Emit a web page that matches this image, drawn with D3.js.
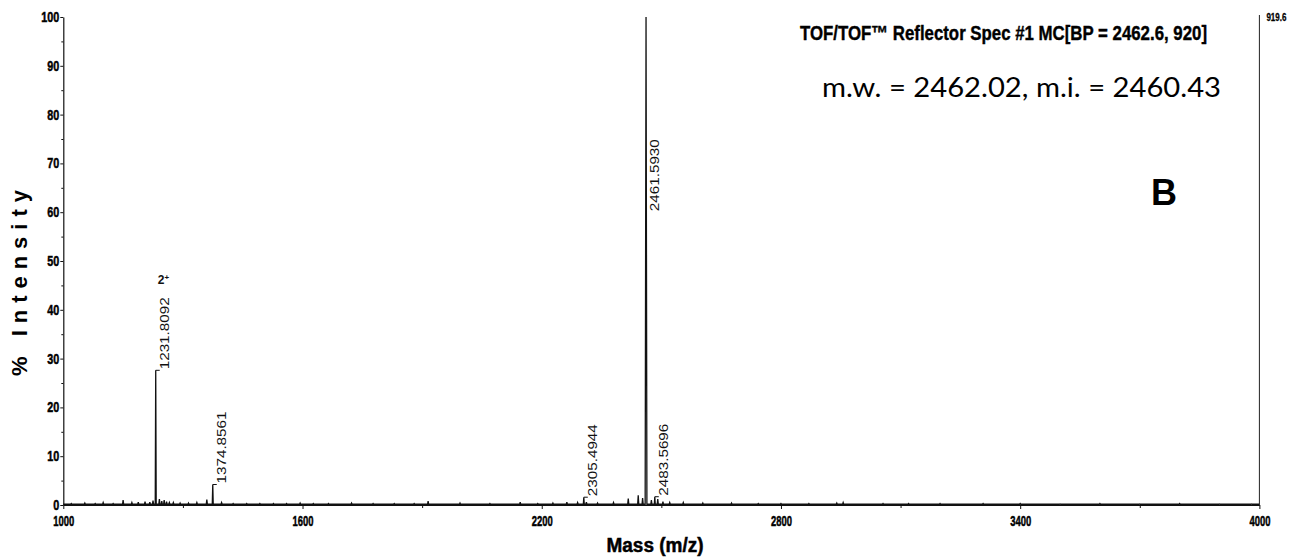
<!DOCTYPE html>
<html>
<head>
<meta charset="utf-8">
<script src="https://cdn.jsdelivr.net/npm/d3@7"></script>
<style>
  body { margin: 0; background: #fff; }
  svg { display: block; }
</style>
</head>
<body>
<svg id="chart" width="1306" height="558"></svg>
<script>
// Axis ticks
const xTicks = [1000, 1600, 2200, 2800, 3400, 4000];
const xMinorTicks = [1300, 1900, 2500, 3100, 3700];
const yTicks = [0, 10, 20, 30, 40, 50, 60, 70, 80, 90, 100];
const yMinorTicks = [5, 15, 25, 35, 45, 55, 65, 75, 85, 95];

// Annotated peaks (m/z, % intensity)
const peakMz = [1231.8092, 1374.8561, 2305.4944, 2461.5930, 2483.5696];
const peakIntensity = [27.6, 4.2, 1.6, 100, 1.7];
const peakLabels = ["1231.8092", "1374.8561", "2305.4944", "2461.5930", "2483.5696"];

// Small unlabelled signals along the baseline (m/z, % intensity)
const noiseMz = [1020, 1054, 1080, 1100, 1125, 1150, 1172, 1188, 1205, 1217, 1225, 1241, 1247, 1253, 1259,
  1266, 1276, 1293, 1314, 1335, 1360, 1397, 1426, 1460, 1493, 1527, 1560, 1594, 1627, 1665, 1723, 1777,
  1830, 1880, 1915, 1995, 2070, 2146, 2190, 2228, 2263, 2290, 2312, 2340, 2380, 2417, 2442, 2453, 2475,
  2491, 2504, 2521, 2555, 2604, 2676, 2743, 2800, 2870, 2940, 2956, 3056, 3120, 3199, 3307, 3400, 3500,
  3600, 3700, 3800, 3900, 3980];
const noiseIntensity = [0.3, 0.4, 0.3, 0.5, 0.3, 1.0, 0.5, 0.6, 0.7, 0.6, 0.9, 1.2, 0.8, 1.0, 0.7,
  0.5, 0.5, 0.4, 0.4, 0.5, 1.1, 0.5, 0.3, 0.3, 0.3, 0.3, 0.3, 0.4, 0.3, 0.3, 0.4, 0.3,
  0.3, 0.3, 0.8, 0.4, 0.3, 0.6, 0.3, 0.4, 0.6, 0.5, 0.6, 0.4, 0.5, 1.3, 2.0, 1.4, 1.0,
  1.2, 0.7, 0.5, 0.5, 0.4, 0.4, 0.3, 0.3, 0.3, 0.4, 0.5, 0.3, 0.3, 0.3, 0.3, 0.3, 0.2,
  0.3, 0.2, 0.3, 0.2, 0.2];

const baseLevel = 0.15;
const basePeakCounts = "919.6";

const svg = d3.select("#chart");
const x = d3.scaleLinear().domain([1000, 4000]).range([63.3, 1259.4]);
const y = d3.scaleLinear().domain([0, 100]).range([505, 17]);

const narrow = '"Liberation Sans Narrow", "Arial Narrow", "Liberation Sans", Arial, sans-serif';

// heavy, compressed lettering used by the acquisition software
function heavy(sel, width) {
  sel.attr("font-family", narrow)
    .attr("font-weight", "bold")
    .attr("fill", "#000")
    .attr("stroke", "#000")
    .attr("stroke-width", 0.5);
  if (width) sel.attr("textLength", width).attr("lengthAdjust", "spacingAndGlyphs");
  return sel;
}

// ---- spectrum trace: every signal drawn as a stick on the baseline
const sticks = [];
peakMz.forEach((m, i) => sticks.push({ m, h: peakIntensity[i], w: peakIntensity[i] > 50 ? 2.2 : 1.2 }));
noiseMz.forEach((m, i) => sticks.push({ m, h: noiseIntensity[i], w: 1.4 }));
sticks.sort((a, b) => a.m - b.m);

const trace = [[1000, baseLevel]];
sticks.forEach(s => {
  trace.push([s.m - s.w, baseLevel], [s.m, s.h], [s.m + s.w, baseLevel]);
});
trace.push([4000, baseLevel]);

const line = d3.line().x(d => x(d[0])).y(d => y(d[1]));

svg.append("path")
  .attr("d", line(trace))
  .attr("fill", "none")
  .attr("stroke", "#111")
  .attr("stroke-width", 1.3)
  .attr("stroke-linejoin", "miter");

// ---- axes
const xAxis = svg.append("g")
  .attr("transform", `translate(0,${y(0)})`)
  .call(d3.axisBottom(x).tickValues(xTicks).tickSize(4).tickSizeOuter(0).tickFormat(d3.format("d")));
svg.append("g")
  .attr("transform", `translate(0,${y(0)})`)
  .call(d3.axisBottom(x).tickValues(xMinorTicks).tickSize(3).tickSizeOuter(0).tickFormat(""))
  .select(".domain").remove();

xAxis.selectAll("text")
  .attr("y", 10)
  .attr("font-size", 15)
  .call(heavy, 21);

const yAxis = svg.append("g")
  .attr("transform", `translate(${x(1000)},0)`)
  .call(d3.axisLeft(y).tickValues(yTicks).tickSize(3).tickSizeOuter(0).tickFormat(d3.format("d")));
svg.append("g")
  .attr("transform", `translate(${x(1000)},0)`)
  .call(d3.axisLeft(y).tickValues(yMinorTicks).tickSize(2).tickSizeOuter(0).tickFormat(""))
  .select(".domain").remove();

yAxis.selectAll("text")
  .attr("x", -4)
  .attr("dy", "0.3em")
  .attr("font-size", 15)
  .call(heavy)
  .each(function (d) {
    d3.select(this)
      .attr("textLength", String(d).length * 6)
      .attr("lengthAdjust", "spacingAndGlyphs");
  });

svg.selectAll(".domain").attr("stroke", "#111").attr("stroke-width", 1.2);
svg.selectAll(".tick line").attr("stroke", "#111");

// right-hand frame edge with the absolute intensity of the base peak
svg.append("line")
  .attr("x1", x(4000)).attr("x2", x(4000))
  .attr("y1", y(100) - 2).attr("y2", y(0))
  .attr("stroke", "#222").attr("stroke-width", 1);
svg.append("text")
  .attr("x", x(4000) + 7).attr("y", 21)
  .attr("font-size", 11)
  .call(heavy, 20)
  .attr("stroke-width", 0.3)
  .text(basePeakCounts);

// ---- peak annotations: a small flag at the apex, then the m/z reading upward
const labelled = peakMz.map((m, i) => ({ m, h: peakIntensity[i], t: peakLabels[i] }));
const ann = svg.append("g");
labelled.forEach(p => {
  const px = x(p.m);
  const top = p.h > 90 ? y(60) : y(p.h);
  if (p.h <= 90) {
    ann.append("line")
      .attr("x1", px).attr("x2", px + 4)
      .attr("y1", top).attr("y2", top)
      .attr("stroke", "#111").attr("stroke-width", 1);
  }
  ann.append("text")
    .attr("transform", `translate(${px + 13},${top - 1}) rotate(-90)`)
    .attr("font-family", narrow)
    .attr("font-size", 13)
    .attr("fill", "#111")
    .attr("textLength", 72)
    .attr("lengthAdjust", "spacingAndGlyphs")
    .text(p.t);
});

// charge state of the doubly charged ion
const dbl = ann.append("text")
  .attr("x", x(peakMz[0]) + 2).attr("y", 284)
  .attr("font-family", narrow).attr("font-weight", "bold").attr("font-size", 12)
  .attr("fill", "#111");
dbl.append("tspan").text("2");
dbl.append("tspan").attr("font-size", 8).attr("dy", -4).text("+");

// ---- titles
svg.append("text")
  .attr("x", 800).attr("y", 40)
  .attr("font-size", 20)
  .call(heavy, 407)
  .attr("stroke-width", 0.4)
  .text("TOF/TOF\u2122 Reflector Spec #1 MC[BP = 2462.6, 920]");

svg.append("text")
  .attr("x", 822).attr("y", 97)
  .attr("font-family", "Lato, 'Open Sans', sans-serif").attr("font-size", 27)
  .attr("fill", "#000")
  .attr("textLength", 399).attr("lengthAdjust", "spacingAndGlyphs")
  .text("m.w. = 2462.02, m.i. = 2460.43");

svg.append("text")
  .attr("x", 1151).attr("y", 205)
  .attr("font-family", "'Liberation Sans', Arial, sans-serif").attr("font-weight", "bold").attr("font-size", 36)
  .attr("fill", "#000")
  .text("B");

svg.append("text")
  .attr("transform", `translate(27,${(y(0) + y(100)) / 2 + 22}) rotate(-90)`)
  .attr("text-anchor", "middle")
  .attr("font-family", "'Liberation Sans', Arial, sans-serif").attr("font-weight", "bold").attr("font-size", 22)
  .attr("fill", "#000")
  .attr("textLength", 186).attr("lengthAdjust", "spacing")
  .text("% Intensity");

svg.append("text")
  .attr("x", 655).attr("y", 552)
  .attr("text-anchor", "middle")
  .attr("font-size", 20)
  .call(heavy, 97)
  .text("Mass (m/z)");
</script>
</body>
</html>
